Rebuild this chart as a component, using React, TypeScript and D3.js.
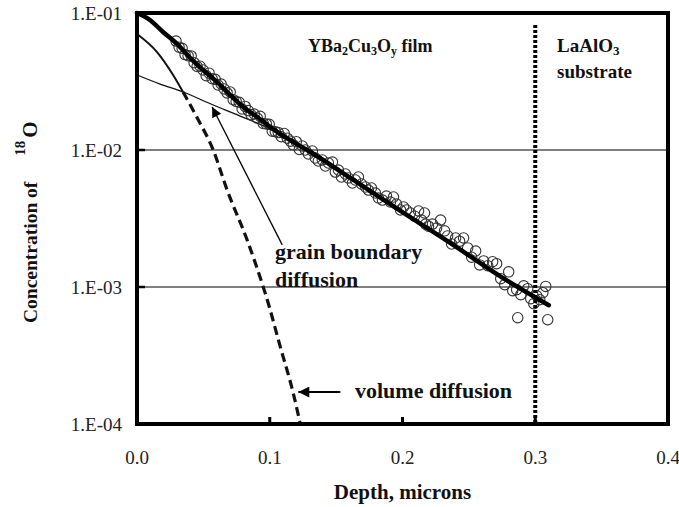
import React from "react";
import * as d3 from "d3";

// ---- data ----
const xTicks = [0, 0.1, 0.2, 0.3, 0.4];
const xTickLabels = ["0.0", "0.1", "0.2", "0.3", "0.4"];
const yTicks = [1e-4, 1e-3, 1e-2, 1e-1];
const yTickLabels = ["1.E-04", "1.E-03", "1.E-02", "1.E-01"];
const gridValues = [1e-2, 1e-3];
const interfaceDepth = 0.3;

const pointDepth = [
  0.0294, 0.0317, 0.034, 0.0362, 0.0385, 0.0408, 0.043, 0.0453, 0.0475, 0.0498,
  0.0521, 0.0543, 0.0566, 0.0589, 0.0611, 0.0634, 0.0657, 0.0679, 0.0702, 0.0725,
  0.0747, 0.077, 0.0792, 0.0815, 0.0838, 0.086, 0.0883, 0.0906, 0.0928, 0.0951,
  0.0974, 0.0996, 0.1019, 0.1042, 0.1064, 0.1087, 0.1109, 0.1132, 0.1155, 0.1177,
  0.12, 0.1223, 0.1245,
  0.1268, 0.1291, 0.1321, 0.1343, 0.1366, 0.1396, 0.1419, 0.1442, 0.1472, 0.1494,
  0.1517, 0.154, 0.157, 0.1592, 0.1623, 0.1645, 0.1668, 0.1691, 0.1721, 0.1743,
  0.1766, 0.1796, 0.1819, 0.1849, 0.1879, 0.1909, 0.1932, 0.1955, 0.1985, 0.2008,
  0.203, 0.206, 0.2091, 0.2121, 0.2143, 0.2174, 0.2196,
  0.2166, 0.2226, 0.2257, 0.2287, 0.2317, 0.234, 0.237, 0.24, 0.243, 0.246,
  0.2491, 0.2521, 0.2551, 0.2581, 0.2611, 0.2642, 0.2679, 0.2709, 0.274, 0.277,
  0.28, 0.283, 0.286, 0.2891, 0.2913, 0.2943, 0.2966, 0.2989, 0.3011, 0.3034,
  0.3057, 0.3079, 0.2868, 0.3094,
];
const pointConc = [
  0.0624, 0.0563, 0.0552, 0.0497, 0.0487, 0.0486, 0.0434, 0.0407, 0.0409, 0.0384,
  0.0349, 0.0364, 0.0331, 0.0328, 0.0298, 0.0303, 0.0279, 0.0261, 0.0265, 0.0233,
  0.0226, 0.0223, 0.0199, 0.0208, 0.0194, 0.0181, 0.0183, 0.0171, 0.0176, 0.0156,
  0.0155, 0.0154, 0.0137, 0.0136, 0.0134, 0.0125, 0.0132, 0.0122, 0.0116, 0.0109,
  0.0115, 0.0101, 0.0107,
  0.01, 0.00935, 0.00983, 0.00874, 0.00831, 0.00845, 0.00764, 0.00804, 0.00817, 0.0069,
  0.00714, 0.00635, 0.00668, 0.00625, 0.00574, 0.00604, 0.00635, 0.00565, 0.00537, 0.0051,
  0.00528, 0.00485, 0.00446, 0.00431, 0.00461, 0.00417, 0.00454, 0.00403, 0.00365, 0.00384,
  0.00365, 0.00347, 0.00329, 0.00359, 0.00308, 0.00288, 0.00278,
  0.00347, 0.00288, 0.00269, 0.00308, 0.00257, 0.00236, 0.00206, 0.00228, 0.00216, 0.00228,
  0.00193, 0.00165, 0.00183, 0.00145, 0.00155, 0.00143, 0.00153, 0.00148, 0.00115, 0.00104,
  0.00129, 0.00094, 0.000956, 0.000879, 0.00102, 0.000972, 0.000822, 0.000756, 0.000864, 0.000808,
  0.000909, 0.00101, 0.000597, 0.000577,
];

// total fit (thick line)
const fitDepth = [0, 0.0098, 0.0196, 0.0302, 0.04, 0.0498, 0.0604, 0.0702, 0.08, 0.0906, 0.1004, 0.1102, 0.1208, 0.1306, 0.1608, 0.1985, 0.2362, 0.274, 0.3102];
const fitConc = [0.1, 0.0889, 0.0727, 0.0594, 0.047, 0.0384, 0.0313, 0.0252, 0.0206, 0.0174, 0.0147, 0.0127, 0.011, 0.00967, 0.00625, 0.00359, 0.00209, 0.00119, 0.000736];

// grain boundary diffusion (thin line)
const gbDepth = [0, 0.0174, 0.0347, 0.0574, 0.0777, 0.1004, 0.1306, 0.1985, 0.3102];
const gbConc = [0.0353, 0.0303, 0.0265, 0.0213, 0.0177, 0.0142, 0.0095, 0.00356, 0.000725];

// volume diffusion (dashed line)
const volDepth = [0, 0.0151, 0.0272, 0.0347, 0.0453, 0.0574, 0.0679, 0.083, 0.0951, 0.0974, 0.1079, 0.1177, 0.123];
const volConc = [0.0703, 0.0519, 0.0353, 0.0265, 0.0172, 0.01, 0.0051, 0.0022, 0.001, 0.00085, 0.000367, 0.000168, 0.0001];

// annotation anchors (data coordinates)
const gbArrow = { from: [0.1094, 0.00203], to: [0.0566, 0.0206] };
const volArrow = { from: [0.1532, 0.000171], to: [0.1215, 0.000171] };

const W = 679;
const H = 507;
const L = 137, R = 668, T = 13, B = 424;
const serif = "'Liberation Serif', 'Times New Roman', serif";

export default function App() {
  const x = d3.scaleLinear().domain([0, 0.4]).range([L, R]);
  const y = d3.scaleLog().domain([1e-4, 1e-1]).range([B, T]);

  const line = d3
    .line<[number, number]>()
    .x((d) => x(d[0]))
    .y((d) => y(d[1]))
    .curve(d3.curveMonotoneX);

  const fitPts = fitDepth.map((d, i) => [d, fitConc[i]] as [number, number]);
  const gbPts = gbDepth.map((d, i) => [d, gbConc[i]] as [number, number]);
  const volPts = volDepth.map((d, i) => [d, volConc[i]] as [number, number]);
  const volTop = volPts.filter((p) => p[0] <= 0.0347);
  const volRest = volPts.filter((p) => p[0] >= 0.0347);

  return (
    <svg
      width={W}
      height={H}
      style={{ position: "absolute", left: 0, top: 0, background: "#fff" }}
      fontFamily={serif}
    >
      <defs>
        <marker id="ahThin" viewBox="0 0 10 10" refX="10" refY="5" markerWidth="13" markerHeight="10" markerUnits="userSpaceOnUse" orient="auto">
          <path d="M0,0 L10,5 L0,10 z" fill="#000" />
        </marker>
        <marker id="ahVol" viewBox="0 0 10 10" refX="10" refY="5" markerWidth="13" markerHeight="11" markerUnits="userSpaceOnUse" orient="auto">
          <path d="M0,0 L10,5 L0,10 z" fill="#000" />
        </marker>
      </defs>

      {/* gridlines */}
      {gridValues.map((g) => (
        <line key={g} x1={L} x2={R} y1={y(g)} y2={y(g)} stroke="#000" strokeWidth={1.2} />
      ))}

      {/* curves */}
      <path d={line(gbPts) || ""} fill="none" stroke="#111" strokeWidth={1.3} />
      <path d={line(volTop) || ""} fill="none" stroke="#111" strokeWidth={2} />
      <path d={line(volRest) || ""} fill="none" stroke="#111" strokeWidth={3.2} strokeDasharray="9,5" />

      {/* data points */}
      {pointDepth.map((d, i) => (
        <circle key={i} cx={x(d)} cy={y(pointConc[i])} r={5.2} fill="none" stroke="#333" strokeWidth={1.1} />
      ))}

      {/* fit */}
      <path d={line(fitPts) || ""} fill="none" stroke="#000" strokeWidth={4.5} strokeLinecap="round" />

      {/* interface */}
      <line x1={x(interfaceDepth)} x2={x(interfaceDepth)} y1={25} y2={B} stroke="#000" strokeWidth={4} strokeDasharray="3,2" />

      {/* frame */}
      <rect x={L} y={T} width={R - L} height={B - T} fill="none" stroke="#000" strokeWidth={4} />

      {/* ticks */}
      {yTicks.map((t) => (
        <line key={"yt" + t} x1={L} x2={L + 8} y1={y(t)} y2={y(t)} stroke="#000" strokeWidth={2.5} />
      ))}
      {xTicks.slice(1, 4).map((t) => (
        <line key={"xt" + t} x1={x(t)} x2={x(t)} y1={B} y2={B - 7} stroke="#000" strokeWidth={3} />
      ))}

      {/* tick labels */}
      {yTicks.map((t, i) => (
        <text key={"yl" + t} x={122} y={y(t) + 7} textAnchor="end" fontSize={19} fill="#222">
          {yTickLabels[i]}
        </text>
      ))}
      {xTicks.map((t, i) => (
        <text key={"xl" + t} x={x(t)} y={464} textAnchor="middle" fontSize={19} fill="#222">
          {xTickLabels[i]}
        </text>
      ))}

      {/* axis titles */}
      <text x={(L + R) / 2} y={499} textAnchor="middle" fontSize={21} fontWeight="bold" fill="#111">
        Depth, microns
      </text>
      <text transform="translate(37,323) rotate(-90)" fontSize={19.5} fontWeight="bold" fill="#111">
        Concentration of
        <tspan dx={26} dy={-12} fontSize={15}>18</tspan>
        <tspan dx={3} dy={12} fontSize={21}>O</tspan>
      </text>

      {/* region labels */}
      <text x={308} y={52} fontSize={18} fontWeight="bold" fill="#111">
        YBa<tspan fontSize={12} dy={3}>2</tspan>
        <tspan dy={-3}>Cu</tspan>
        <tspan fontSize={12} dy={3}>3</tspan>
        <tspan dy={-3}>O</tspan>
        <tspan fontSize={12} dy={3}>y</tspan>
        <tspan dy={-3}> film</tspan>
      </text>
      <text x={557} y={52} fontSize={19} fontWeight="bold" fill="#111">
        LaAlO<tspan fontSize={13} dy={3}>3</tspan>
      </text>
      <text x={557} y={78} fontSize={19} fontWeight="bold" fill="#111">
        substrate
      </text>

      {/* annotations */}
      <line
        x1={x(gbArrow.from[0])}
        y1={y(gbArrow.from[1])}
        x2={x(gbArrow.to[0])}
        y2={y(gbArrow.to[1])}
        stroke="#000"
        strokeWidth={1.3}
        markerEnd="url(#ahThin)"
      />
      <text x={275} y={259} fontSize={22} fontWeight="bold" fill="#111">grain boundary</text>
      <text x={275} y={287} fontSize={22} fontWeight="bold" fill="#111">diffusion</text>

      <line
        x1={x(volArrow.from[0])}
        y1={y(volArrow.from[1])}
        x2={x(volArrow.to[0])}
        y2={y(volArrow.to[1])}
        stroke="#000"
        strokeWidth={2}
        markerEnd="url(#ahVol)"
      />
      <text x={355} y={398} fontSize={22} fontWeight="bold" fill="#111">volume diffusion</text>
    </svg>
  );
}
